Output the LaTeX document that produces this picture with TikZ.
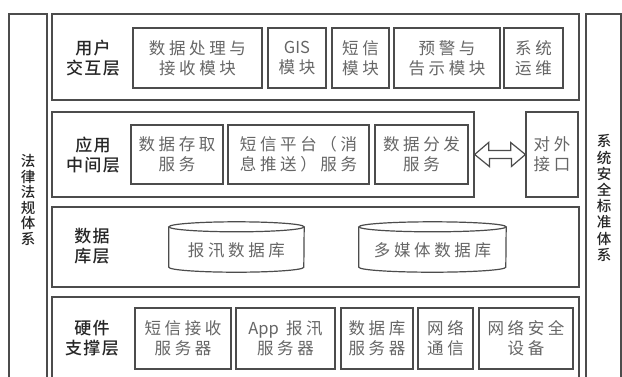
\documentclass[tikz,border=0pt]{standalone}
\usepackage{fontspec}
\newfontfamily\cjk[LetterSpace=22]{Noto Sans CJK SC}
\newfontfamily\cjklat{Noto Sans CJK SC}
\newfontfamily\cjklab[LetterSpace=8, UprightFont={* Medium}]{Noto Sans CJK SC}
\newfontfamily\cjkv[UprightFont={* Medium}]{Noto Sans CJK SC}
\usetikzlibrary{calc}
\begin{document}
\begin{tikzpicture}[x=1pt,y=-1pt,
  frame/.style={draw=black!70, line width=1.3pt},
  layer/.style={frame, rectangle, inner sep=0pt},
  inbox/.style={frame, line width=1.2pt, rectangle, align=center, inner sep=0pt,
    font=\cjk\fontsize{16.5}{20}\selectfont, text=black!60},
  lab/.style={align=center, inner sep=0pt, font=\cjklab\fontsize{17}{20}\selectfont, text=black!85},
  vtext/.style={align=center, inner sep=0pt, font=\cjkv\fontsize{14.5}{15.5}\selectfont, text=black!85},
  dbtext/.style={align=center, inner sep=0pt, font=\cjk\fontsize{16.5}{20}\selectfont, text=black!60}]
\clip (0,0) rectangle (622,376);
\fill[white] (0,0) rectangle (622,376);
% side columns
\node[layer, minimum width=38pt, minimum height=380pt] (lawcol) at (28,204) {};
\node[vtext] (lawtxt) at (28,200) {法\\律\\法\\规\\体\\系};
\node[layer, minimum width=35pt, minimum height=380pt] (stdcol) at (603.5,204) {};
\node[vtext, font=\cjkv\fontsize{14.5}{16.2}\selectfont] (stdtxt) at (604,198) {系\\统\\安\\全\\标\\准\\体\\系};
% user layer
\node[layer, minimum width=527pt, minimum height=86pt] (ui) at (315.5,57) {};
\node[lab] (uilab) at (93,58) {用户\\交互层};
\node[inbox, minimum width=129pt, minimum height=60pt] (u1) at (197.5,58) {数据处理与\\接收模块};
\node[inbox, minimum width=58pt, minimum height=60pt] (u2) at (297,58) {{\cjklat GIS}\\模块};
\node[inbox, minimum width=57pt, minimum height=60pt] (u3) at (360.5,58) {短信\\模块};
\node[inbox, minimum width=106pt, minimum height=60pt] (u4) at (447,58) {预警与\\告示模块};
\node[inbox, minimum width=59pt, minimum height=60pt] (u5) at (533.5,58) {系统\\运维};
% middle layer
\node[layer, minimum width=422pt, minimum height=85pt] (mid) at (263,154.5) {};
\node[lab] (midlab) at (93,155) {应用\\中间层};
\node[inbox, minimum width=92pt, minimum height=59pt] (m1) at (177,154.5) {数据存取\\服务};
\node[inbox, minimum width=141pt, minimum height=59pt] (m2) at (298.5,154.5) {短信平台（消\\息推送）服务};
\node[inbox, minimum width=93pt, minimum height=59pt] (m3) at (421.5,154.5) {数据分发\\服务};
\node[inbox, minimum width=52pt, minimum height=85pt] (ext) at (552,154.5) {对外\\接口};
\draw[frame, line width=1.2pt, fill=white] (mid.east) -- ++(14,-12) -- ++(0,8) -- ++(22,0) -- ++(0,-8)
  -- (ext.west) -- ++(-14,12) -- ++(0,-8) -- ++(-22,0) -- ++(0,8) -- cycle;
% database layer
\node[layer, minimum width=527pt, minimum height=80pt] (db) at (315.5,247) {};
\node[lab] (dblab) at (92,246) {数据\\库层};
\node[minimum width=135pt, minimum height=50pt, inner sep=0pt] (db1) at (236.5,247) {};
\node[minimum width=147pt, minimum height=50pt, inner sep=0pt] (db2) at (432.5,247) {};
\foreach \c/\r in {db1/67.5, db2/73.5}{
  \draw[frame, line width=1.2pt] ($(\c.north west)+(0,5)$) -- ($(\c.south west)+(0,-5)$)
    arc[start angle=180, end angle=360, x radius=\r pt, y radius=5pt]
    -- ($(\c.north east)+(0,5)$);
  \draw[frame, line width=1.2pt] ($(\c.north)+(0,5)$) ellipse [x radius=\r pt, y radius=5pt];
}
\node[dbtext] (db1t) at (236.5,250) {报汛数据库};
\node[dbtext] (db2t) at (432.5,250) {多媒体数据库};
% hardware layer
\node[layer, minimum width=527pt, minimum height=90pt] (hw) at (315.5,342) {};
\node[lab] (hwlab) at (92,338) {硬件\\支撑层};
\node[inbox, minimum width=96pt, minimum height=61pt] (h1) at (183,338.5) {短信接收\\服务器};
\node[inbox, minimum width=99pt, minimum height=61pt] (h2) at (285.5,338.5) {{\cjklat App} 报汛\\服务器};
\node[inbox, minimum width=72pt, minimum height=61pt] (h3) at (377,338.5) {数据库\\服务器};
\node[inbox, minimum width=55pt, minimum height=61pt] (h4) at (445.5,338.5) {网络\\通信};
\node[inbox, minimum width=94pt, minimum height=61pt] (h5) at (526,338.5) {网络安全\\设备};
\end{tikzpicture}
\end{document}
